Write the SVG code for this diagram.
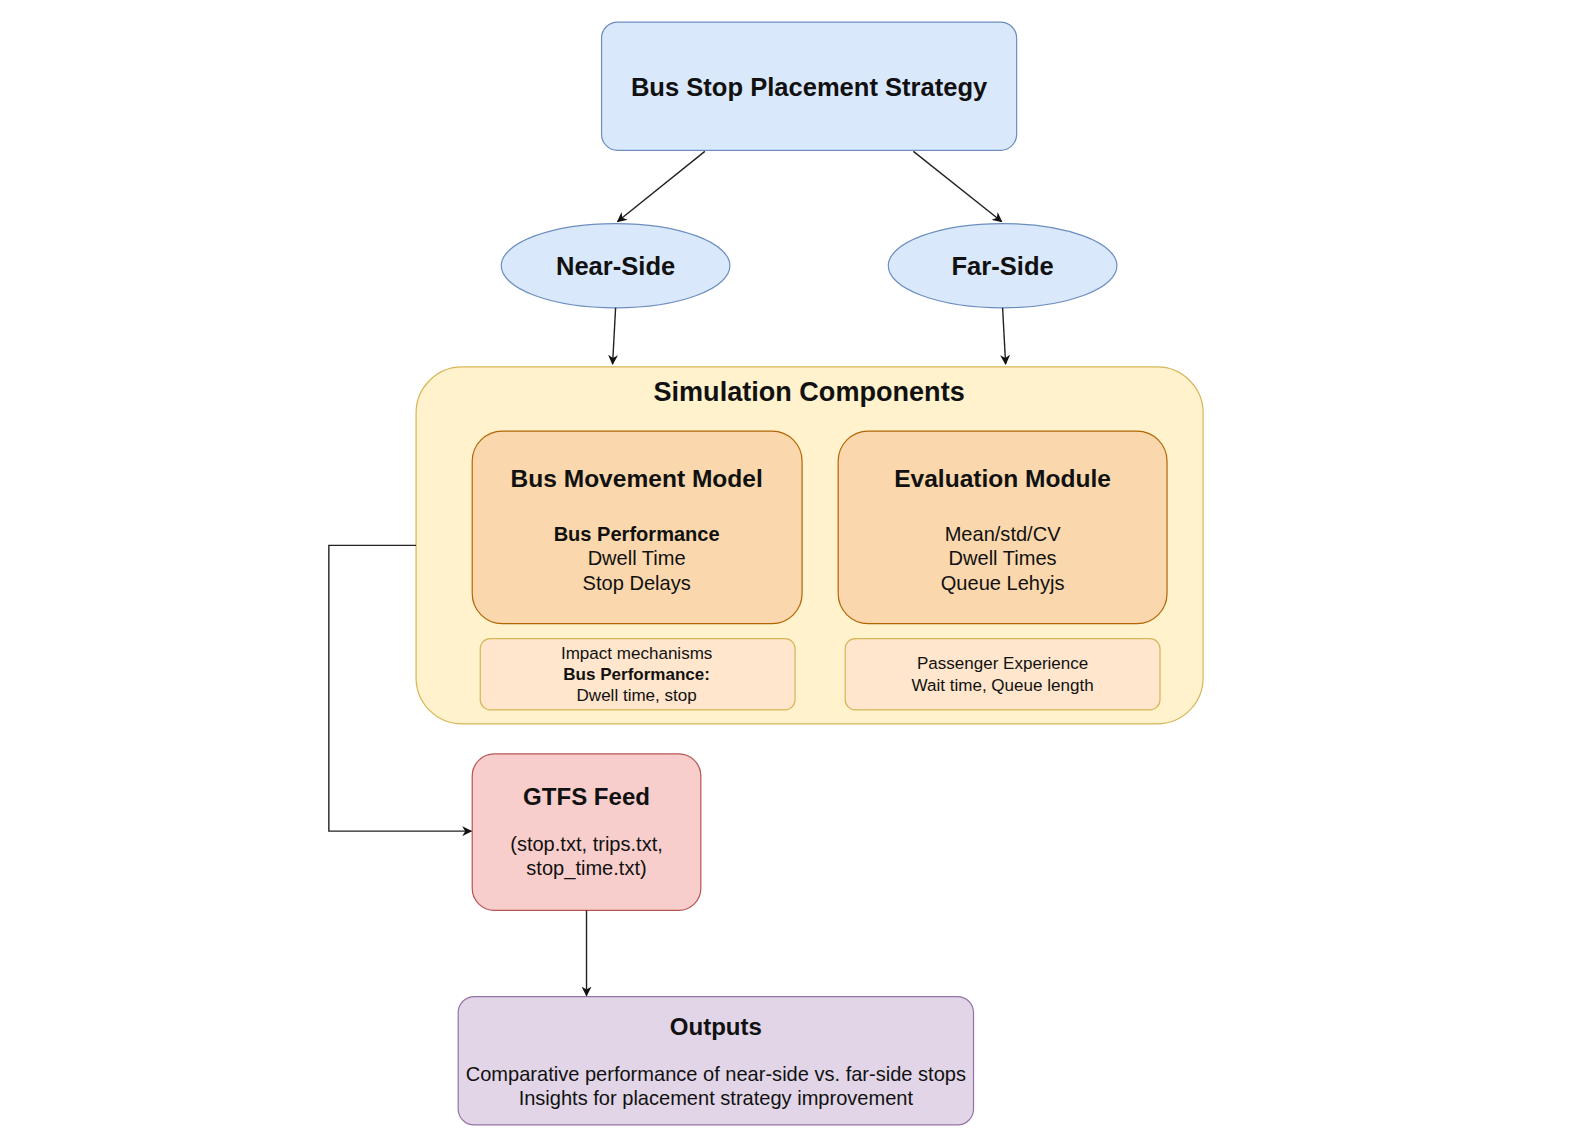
<svg xmlns="http://www.w3.org/2000/svg" width="1572" height="1130" viewBox="0 0 1572 1130">
<defs>
<marker id="arr" viewBox="0 0 10 10" refX="9" refY="5" markerWidth="10" markerHeight="10" markerUnits="userSpaceOnUse" orient="auto">
<path d="M0,0 L10,5 L0,10 L3,5 Z" fill="#111"/>
</marker>
</defs>
<style>
text{font-family:"Liberation Sans",Arial,sans-serif;fill:#111;text-anchor:middle}
.b{font-weight:bold}
.blue{fill:#dae8fc;stroke:#6c8ebf;stroke-width:1.2}
.yel{fill:#fff2cc;stroke:#d6b656;stroke-width:1.2}
.org{fill:#fad7ac;stroke:#b46504;stroke-width:1.2}
.lorg{fill:#ffe6cc;stroke:#d6b656;stroke-width:1.2}
.red{fill:#f8cecc;stroke:#b85450;stroke-width:1.2}
.pur{fill:#e1d5e7;stroke:#9673a6;stroke-width:1.2}
.c{fill:none;stroke:#222;stroke-width:1.4;marker-end:url(#arr)}
</style>
<rect width="1572" height="1130" fill="#fff"/>
<g transform="scale(1.0026)">
<g id="strategy">
<rect class="blue" x="600" y="22" width="414" height="128" rx="16"/>
<text class="b" x="807" y="96" font-size="25.5">Bus Stop Placement Strategy</text>
</g>
<g id="near-side">
<ellipse class="blue" cx="614" cy="265" rx="114" ry="42"/>
<text class="b" x="614" y="274" font-size="25.5">Near-Side</text>
</g>
<g id="far-side">
<ellipse class="blue" cx="1000" cy="265" rx="114" ry="42"/>
<text class="b" x="1000" y="274" font-size="25.5">Far-Side</text>
</g>
<g id="simulation">
<rect class="yel" x="415" y="366" width="785" height="356" rx="46"/>
<text class="b" x="807" y="400" font-size="27">Simulation Components</text>
</g>
<g id="bus-movement">
<rect class="org" x="471" y="430" width="329" height="192" rx="30"/>
<text class="b" x="635" y="486" font-size="24.5">Bus Movement Model</text>
<text x="635" y="540" font-size="20"><tspan class="b">Bus Performance</tspan><tspan x="635" dy="24">Dwell Time</tspan><tspan x="635" dy="24">Stop Delays</tspan></text>
</g>
<g id="evaluation">
<rect class="org" x="836" y="430" width="328" height="192" rx="30"/>
<text class="b" x="1000" y="486" font-size="24.5">Evaluation Module</text>
<text x="1000" y="540" font-size="20"><tspan>Mean/std/CV</tspan><tspan x="1000" dy="24">Dwell Times</tspan><tspan x="1000" dy="24">Queue Lehyjs</tspan></text>
</g>
<g id="impact">
<rect class="lorg" x="479" y="637" width="314" height="71" rx="10"/>
<text x="635" y="657" font-size="17"><tspan>Impact mechanisms</tspan><tspan x="635" dy="21" class="b">Bus Performance:</tspan><tspan x="635" dy="21">Dwell time, stop</tspan></text>
</g>
<g id="passenger">
<rect class="lorg" x="843" y="637" width="314" height="71" rx="10"/>
<text x="1000" y="667" font-size="17"><tspan>Passenger Experience</tspan><tspan x="1000" dy="22">Wait time, Queue length</tspan></text>
</g>
<g id="gtfs">
<rect class="red" x="471" y="752" width="228" height="156" rx="22"/>
<text class="b" x="585" y="803" font-size="24">GTFS Feed</text>
<text x="585" y="849" font-size="20"><tspan>(stop.txt, trips.txt,</tspan><tspan x="585" dy="24">stop_time.txt)</tspan></text>
</g>
<g id="outputs">
<rect class="pur" x="457" y="994" width="514" height="128" rx="16"/>
<text class="b" x="714" y="1032" font-size="24">Outputs</text>
<text x="714" y="1078" font-size="20"><tspan>Comparative performance of near-side vs. far-side stops</tspan><tspan x="714" dy="24">Insights for placement strategy improvement</tspan></text>
</g>
<g id="connectors">
<line class="c" x1="703" y1="151" x2="616" y2="221"/>
<line class="c" x1="911" y1="151" x2="999" y2="221"/>
<line class="c" x1="614" y1="307" x2="611" y2="363"/>
<line class="c" x1="1000" y1="307" x2="1003" y2="363"/>
<polyline class="c" points="415,544 328,544 328,829 470,829"/>
<line class="c" x1="585" y1="908" x2="585" y2="993"/>
</g>
</g>
</svg>
